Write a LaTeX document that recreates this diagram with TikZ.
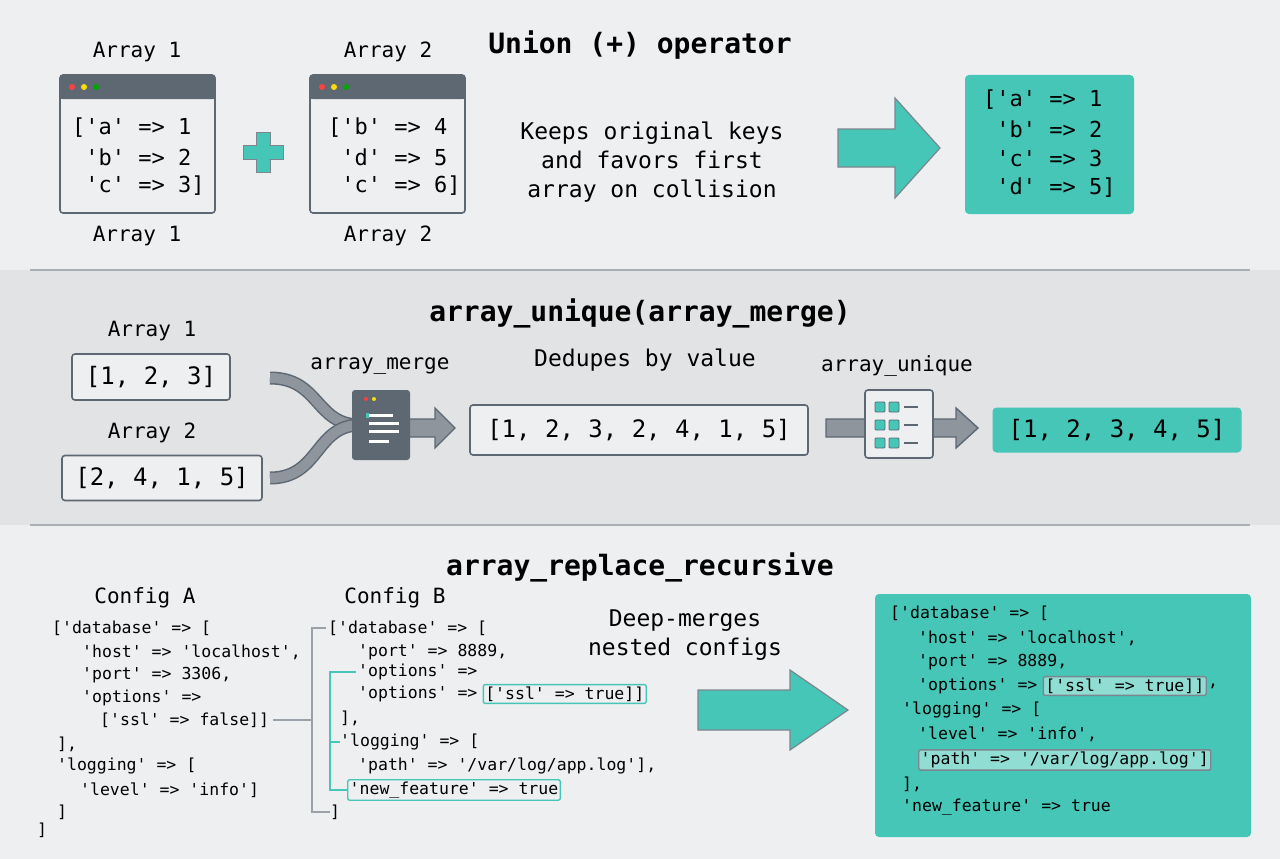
\documentclass[tikz,border=0pt]{standalone}
\usepackage{fontspec}
\setmonofont{DejaVu Sans Mono}
\usetikzlibrary{positioning}
\definecolor{bgtop}{HTML}{EDEFF1}
\definecolor{bgmid}{HTML}{E1E3E5}
\definecolor{teal}{HTML}{45C6B6}
\definecolor{slate}{HTML}{5D6873}
\definecolor{rule}{HTML}{A9AFB5}
\newcommand{\fsz}[1]{\fontsize{#1}{#1}\selectfont\ttfamily}
% block arrow: x0, x1, y, shaft half, head half, head length, style
\newcommand{\blockarrow}[7]{
	\draw[#7] (#1,#3-#4) -- (#2-#6,#3-#4) -- (#2-#6,#3-#5) -- (#2,#3)
		-- (#2-#6,#3+#5) -- (#2-#6,#3+#4) -- (#1,#3+#4) -- cycle;
}

\tikzset{
	title/.style={font=\fsz{28}\bfseries},
	lbl/.style={font=\fsz{21}},
	txt/.style={font=\fsz{23}, align=center},
	code/.style={font=\fsz{22}, anchor=west, inner sep=0},
	small/.style={font=\fsz{16.5}, anchor=west, inner sep=0},
	box/.style={draw=slate, line width=1.6, rounded corners=3, fill=bgtop},
	res/.style={fill=teal, rounded corners=4},
	hl/.style={draw=teal, line width=1.4, rounded corners=2, inner sep=2},
	tealarrow/.style={draw=slate!80, fill=teal, line width=1.2},
	grayarrow/.style={draw=slate, fill=slate!70, line width=1.4}
}

\begin{document}
\begin{tikzpicture}[x=1pt,y=-1pt]

% ------------------------------------------------------
% background

\fill[bgtop] (0,0) rectangle (1280,859);
\fill[bgmid] (0,270) rectangle (1280,525);
\draw[rule, line width=1.5] (30,270)--(1250,270);
\draw[rule, line width=1.5] (30,525)--(1250,525);

% ------------------------------------------------------
% union

\node[title] (t1) at (640,45) {Union (+) operator};

\def \win#1{
	\draw[box, fill=bgtop] (#1,75) rectangle (#1+155,213);
	\fill[slate, rounded corners=3] (#1,75) rectangle (#1+155,99);
	\fill[slate] (#1,90) rectangle (#1+155,99);
	\fill[red!75] (#1+12,87) circle (3);
	\fill[yellow!80!orange] (#1+24,87) circle (3);
	\fill[green!65!black] (#1+36,87) circle (3);
}

\win{60}
\win{310}

\node[lbl] (a1) at (137,52) {Array 1};
\node[lbl] (a1b) at (137,236) {Array 1};
\node[lbl] (a2) at (388,52) {Array 2};
\node[lbl] (a2b) at (388,236) {Array 2};

\node[code] (w1a) at (72,128) {['a' => 1};
\node[code] (w1b) at (72,157) {\ 'b' => 2};
\node[code] (w1c) at (72,186) {\ 'c' => 3]};
\node[code] (w2a) at (328,128) {['b' => 4};
\node[code] (w2b) at (328,157) {\ 'd' => 5};
\node[code] (w2c) at (328,186) {\ 'c' => 6]};

\fill[teal, draw=slate!80, line width=1] (256,132) rectangle (270,172);
\fill[teal, draw=slate!80, line width=1] (243,145) rectangle (283,159);
\fill[teal] (257,133) rectangle (269,171);

\node[txt] (keep) at (652,162) {Keeps original keys\\[6pt]and favors first\\[6pt]array on collision};

\blockarrow{838}{940}{148}{19}{50}{45}{tealarrow}

\fill[res] (965,75) rectangle (1134,214);
\node[code] (r1) at (983,100) {['a' => 1};
\node[code] (r2) at (983,129) {\ 'b' => 2};
\node[code] (r3) at (983,158) {\ 'c' => 3};
\node[code] (r4) at (983,188) {\ 'd' => 5]};

% ------------------------------------------------------
% array_unique(array_merge)

\node[title] (t2) at (640,313) {array\_unique(array\_merge)};

\node[lbl] (m1) at (152,331) {Array 1};
\node[box, font=\fsz{24}, minimum width=158pt, minimum height=46pt] (x1) at (151,377) {[1, 2, 3]};
\node[lbl] (m2) at (152,433) {Array 2};
\node[box, font=\fsz{24}, minimum width=200pt, minimum height=45pt] (x2) at (162,478) {[2, 4, 1, 5]};

\draw[slate, line width=13] (270,378) .. controls (320,378) and (315,425) .. (360,425);
\draw[slate!70, line width=10] (270,378) .. controls (320,378) and (315,425) .. (360,425);
\draw[slate, line width=13] (270,478) .. controls (320,478) and (315,425) .. (360,425);
\draw[slate!70, line width=10] (270,478) .. controls (320,478) and (315,425) .. (360,425);

\blockarrow{400}{455}{428}{9}{20}{20}{grayarrow}
\node[fill=slate, rounded corners=3, minimum width=58pt, minimum height=70pt] (merge) at (381,425) {};
\fill[red!75] (366,399) circle (2);
\fill[yellow!80!orange] (374,399) circle (2);
\fill[teal] (366,413) rectangle (369,418);
\foreach \y/\w in {415/24, 423/30, 431/30, 441/20}
	\fill[white] (369,\y-1.5) rectangle (369+\w,\y+1.5);
\node[lbl] (lm) at (380,366) {array\_merge};

\node[txt] (dd) at (645,360) {Dedupes by value};
\node[box, font=\fsz{24}, minimum width=338pt, minimum height=50pt] (mid) at (639,430) {[1, 2, 3, 2, 4, 1, 5]};

\blockarrow{826}{978}{428}{9}{20}{22}{grayarrow}
\node[box, minimum width=68pt, minimum height=68pt] (uniq) at (899,424) {};
\foreach \y in {407,425,443} {
	\fill[teal, draw=slate, line width=0.8, rounded corners=1] (875,\y-5) rectangle (885,\y+5);
	\fill[teal, draw=slate, line width=0.8, rounded corners=1] (889,\y-5) rectangle (899,\y+5);
	\draw[slate, line width=1.5] (904,\y)--(918,\y);
}
\node[lbl] (lu) at (897,366) {array\_unique};

\node[res, font=\fsz{24}, minimum width=249pt, minimum height=45pt] (out) at (1117,430) {[1, 2, 3, 4, 5]};

% ------------------------------------------------------
% array_replace_recursive

\node[title] (t3) at (640,567) {array\_replace\_recursive};

\node[lbl] (ca) at (145,598) {Config A};
\node[small] (a1l) at (52,628) {['database' => [};
\node[small] (a2l) at (82,652) {'host' => 'localhost',};
\node[small] (a3l) at (82,675) {'port' => 3306,};
\node[small] (a4l) at (82,698) {'options' =>};
\node[small] (a5l) at (100,720) {['ssl' => false]]};
\node[small] (a6l) at (57,744) {],};
\node[small] (a7l) at (57,766) {'logging' => [};
\node[small] (a8l) at (80,790) {'level' => 'info']};
\node[small] (a9l) at (57,812) {]};
\node[small] (a10l) at (37,830) {]};

\node[lbl] (cb) at (395,598) {Config B};
\node[small] (b1l) at (328,628) {['database' => [};
\node[small] (b2l) at (358,652) {'port' => 8889,};
\node[small] (b3l) at (358,672) {'options' =>};
\node[small] (b4l) at (358,694) {'options' =>};
\node[small, hl, right=5pt of b4l] (b4h) {['ssl' => true]]};
\node[small] (b5l) at (340,718) {],};
\node[small] (b6l) at (340,742) {'logging' => [};
\node[small] (b7l) at (358,766) {'path' => '/var/log/app.log'],};
\node[small, hl, anchor=west] (b8h) at (347,790) {'new\_feature' => true};
\node[small] (b9l) at (330,812) {]};

\draw[rule!80!slate, line width=1.5] (a5l.east) ++(4,0) -- (312,720);
\draw[rule!80!slate, line width=1.5] (b1l.west) ++(-2,0) -- (312,628) -- (312,812) -- (b9l.west);
\draw[teal, line width=1.5] (b3l.west) ++(-2,0) -- (330,672) -- (330,790) -- (b8h.west);
\draw[teal, line width=1.5] (330,742) -- (b6l.west);

\node[txt] (dm) at (685,635) {Deep-merges\\[6pt]nested configs};
\blockarrow{698}{848}{710}{20}{40}{58}{tealarrow}

\fill[res] (875,594) rectangle (1251,837);
\node[small] (c1l) at (890,613) {['database' => [};
\node[small] (c2l) at (918,638) {'host' => 'localhost',};
\node[small] (c3l) at (918,662) {'port' => 8889,};
\node[small] (c4l) at (918,686) {'options' =>};
\node[small, hl, draw=slate!80, fill=teal!60!white, right=5pt of c4l] (c4h) {['ssl' => true]]};
\node[small, right=1pt of c4h] (c4e) {,};
\node[small] (c5l) at (902,710) {'logging' => [};
\node[small] (c6l) at (918,734) {'level' => 'info',};
\node[small, hl, draw=slate!80, fill=teal!60!white, anchor=west] (c7h) at (918,760) {'path' => '/var/log/app.log']};
\node[small] (c8l) at (902,784) {],};
\node[small] (c9l) at (902,807) {'new\_feature' => true};

\end{tikzpicture}
\end{document}
